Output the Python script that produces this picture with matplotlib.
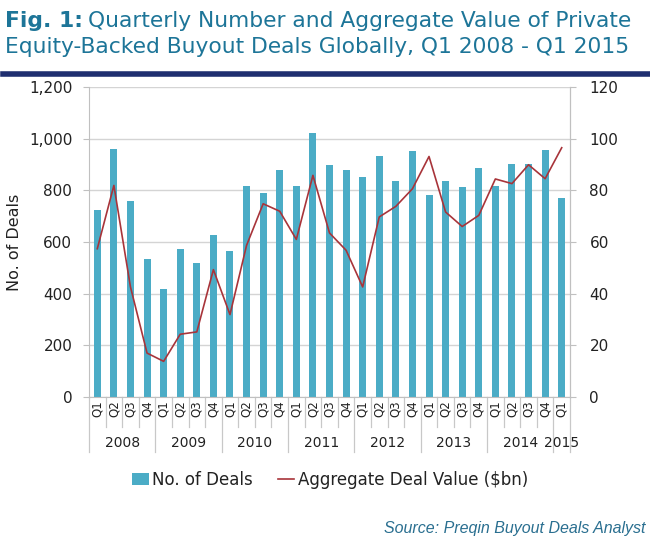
import matplotlib
matplotlib.use("Agg")
import matplotlib.pyplot as plt
from matplotlib.lines import Line2D
from matplotlib.patches import Patch
import numpy as np

years = ["2008", "2009", "2010", "2011", "2012", "2013", "2014", "2015"]
quarters = ["Q1", "Q2", "Q3", "Q4"] * 7 + ["Q1"]
deals = [725, 961, 758, 535, 418, 574, 519, 628,
         564, 815, 790, 880, 818, 1023, 897, 877,
         851, 934, 836, 952, 780, 836, 813, 885,
         818, 903, 900, 956, 769]
value_bn = [57.4, 81.9, 42.6, 17.0, 13.8, 24.3, 25.2, 49.3,
            31.9, 58.7, 74.8, 71.9, 61.0, 85.8, 63.5, 56.8,
            42.6, 69.7, 73.8, 80.6, 93.1, 71.6, 66.0, 70.3,
            84.4, 82.6, 89.9, 84.5, 96.5]
left_ticks = [0, 200, 400, 600, 800, 1000, 1200]
right_ticks = [0, 20, 40, 60, 80, 100, 120]

BAR = "#4bacc6"
LINE = "#a8343a"
TEAL = "#1d7598"
GRID = "#d4d4d4"
TXT = "#222222"

W, H = 650, 543
fig = plt.figure(figsize=(6.5, 5.43), dpi=100)
plt.rcParams['font.family'] = ['DejaVu Sans']

ax = fig.add_axes([89 / W, 1 - 397 / H, (570 - 89) / W, (397 - 87) / H])
x = np.arange(len(deals))
ax.bar(x, deals, width=0.42, color=BAR, zorder=2)
ax.set_xlim(-0.5, len(deals) - 0.5)
ax.set_ylim(0, 1200)
ax.set_yticks(left_ticks)
ax.set_yticklabels([f"{v:,}" for v in left_ticks], fontsize=11, color=TXT)
ax.yaxis.grid(True, color=GRID, lw=1, zorder=0)
ax.set_axisbelow(True)
ax.spines["top"].set_visible(False)
for s in ["left", "right", "bottom"]:
    ax.spines[s].set_color("#c0c0c0")
ax.tick_params(axis="y", length=4, color="#c0c0c0", pad=8)
ax.set_xticks([])
ax.set_ylabel("No. of Deals", fontsize=11.5, color=TXT)
ax.yaxis.set_label_coords(-(89 - 22) / (570 - 89), 0.5)

ax2 = ax.twinx()
ax2.plot(x, value_bn, color=LINE, lw=1.2, zorder=3)
ax2.set_ylim(0, 120)
ax2.set_yticks(right_ticks)
ax2.set_yticklabels([str(v) for v in right_ticks], fontsize=11, color=TXT)
ax2.tick_params(axis="y", length=4, color="#c0c0c0", pad=10)
for s in ["top", "left", "bottom"]:
    ax2.spines[s].set_visible(False)
ax2.spines["right"].set_color("#c0c0c0")

# category labels
trans = ax.get_xaxis_transform()
for i, q in enumerate(quarters):
    ax.text(i, -0.012, q, rotation=90, ha="center", va="top", fontsize=8.5,
            color=TXT, transform=trans, clip_on=False)
# separators
q_depth = -(427 - 397) / (397 - 87)
y_depth = -(452 - 397) / (397 - 87)
for i in range(len(deals) + 1):
    depth = y_depth if (i % 4 == 0 or i == len(deals)) else q_depth
    ax.add_line(Line2D([i - 0.5, i - 0.5], [0, depth], transform=trans,
                       color="#c8c8c8", lw=0.9, clip_on=False))
for k, yr in enumerate(years):
    start = 4 * k
    end = min(4 * k + 3, len(deals) - 1)
    cx = (start + end) / 2
    ax.text(cx, -(443 - 397) / (397 - 87), yr, ha="center", va="center",
            fontsize=10, color=TXT, transform=trans, clip_on=False)

# legend
handles = [Patch(facecolor=BAR, edgecolor="none"),
           Line2D([0], [0], color=LINE, lw=1.2)]
fig.legend(handles, ["No. of Deals", "Aggregate Deal Value ($bn)"],
           loc="center", bbox_to_anchor=(330 / W, 1 - 480 / H), ncol=2,
           frameon=False, fontsize=12, handlelength=1.0, handletextpad=0.2,
           columnspacing=1.5, labelcolor=TXT)

# title
fig.canvas.draw()
r = fig.canvas.get_renderer()
TS = 15.7
t1 = fig.text(5 / W, 1 - 21 / H, "Fig. 1:", fontsize=TS, fontweight="bold",
              color=TEAL, va="center", ha="left")
bb = t1.get_window_extent(r)
fig.text(bb.x1 / W + 5 / W, 1 - 21 / H,
         "Quarterly Number and Aggregate Value of Private",
         fontsize=TS, color=TEAL, va="center", ha="left")
fig.text(5 / W, 1 - 47 / H,
         "Equity-Backed Buyout Deals Globally, Q1 2008 - Q1 2015",
         fontsize=TS, color=TEAL, va="center", ha="left")
fig.add_artist(Line2D([3 / W, 648 / W], [1 - 74 / H, 1 - 74 / H],
                      color="#1f2f70", lw=4, transform=fig.transFigure))

fig.text(645 / W, 1 - 528 / H, "Source: Preqin Buyout Deals Analyst",
         fontsize=11.5, style="italic", color="#2a6f90", ha="right", va="center",
         family=["Liberation Sans", "DejaVu Sans"])

fig.savefig("out.png", dpi=100)
